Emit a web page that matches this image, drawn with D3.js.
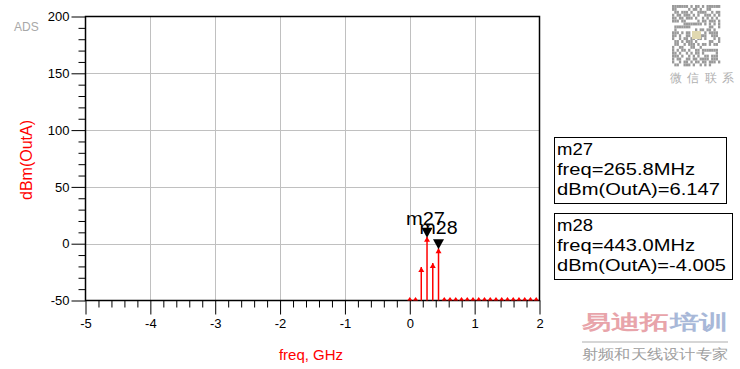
<!DOCTYPE html>
<html><head><meta charset="utf-8">
<script src="https://cdn.jsdelivr.net/npm/d3@7"></script>
<style>body{margin:0;background:#fff}svg{display:block}text{font-family:"Liberation Sans",Arial,sans-serif}</style>
</head><body><svg id="c" width="740" height="369"></svg>
<script>
// ---- data ----
const xTicks = [-5, -4, -3, -2, -1, 0, 1, 2];
const yTicks = [-50, 0, 50, 100, 150, 200];
const toneFreq = [0.1772, 0.2658, 0.3544, 0.4430];       // GHz
const toneLevel = [-20.5, 6.147, -17.0, -4.005];          // dBm
const floorFreq = [0, 0.0886, 0.5316, 0.6202, 0.7088, 0.7974, 0.8860, 0.9746, 1.0632, 1.1518,
  1.2404, 1.3290, 1.4176, 1.5062, 1.5948, 1.6834, 1.7720, 1.8606, 1.9492];
const floorLevel = [-50, -50, -50, -50, -50, -50, -50, -50, -50, -50,
  -50, -50, -50, -50, -50, -50, -50, -50, -50];
const markerNames = ["m27", "m28"];
const markerFreq = [0.2658, 0.4430];
const markerLevel = [6.147, -4.005];
const markerText = [["m27", "freq=265.8MHz", "dBm(OutA)=6.147"], ["m28", "freq=443.0MHz", "dBm(OutA)=-4.005"]];

const svg = d3.select("#c");
const x = d3.scaleLinear().domain([-5, 2]).range([85.5, 539.5]);
const y = d3.scaleLinear().domain([-50, 200]).range([300.5, 16.5]);
const fmt = d => String(d);

// grid
const g = svg.append("g");
g.selectAll(".gx").data(xTicks.slice(1, -1)).join("line")
  .attr("x1", d => Math.round(x(d)) + 0.5).attr("x2", d => Math.round(x(d)) + 0.5)
  .attr("y1", y(200)).attr("y2", y(-50)).attr("stroke", "#c0c0c0");
g.selectAll(".gy").data(yTicks.slice(1, -1)).join("line")
  .attr("y1", d => Math.round(y(d)) + 0.5).attr("y2", d => Math.round(y(d)) + 0.5)
  .attr("x1", x(-5)).attr("x2", x(2)).attr("stroke", "#c0c0c0");

// axes
const xMinor = d3.range(-5, 2.0001, 0.2).filter(v => Math.abs(v - Math.round(v)) > 1e-6);
const yMinor = d3.range(-50, 200.0001, 10).filter(v => v % 50 !== 0);
svg.append("g").attr("transform", `translate(0,${y(-50)})`)
  .call(d3.axisBottom(x).tickValues(xMinor).tickSize(7).tickFormat(""))
  .call(a => a.select(".domain").remove())
  .selectAll("line").attr("stroke", "#000");
const xa = svg.append("g").attr("transform", `translate(0,${y(-50)})`)
  .call(d3.axisBottom(x).tickValues(xTicks).tickSize(14).tickSizeOuter(0).tickPadding(4).tickFormat(fmt));
xa.select(".domain").remove();
xa.selectAll("text").attr("font-size", 13).attr("fill", "#000").attr("font-family", "Liberation Sans, Arial");
svg.append("g").attr("transform", `translate(${x(-5)},0)`)
  .call(d3.axisLeft(y).tickValues(yMinor).tickSize(7).tickFormat(""))
  .call(a => a.select(".domain").remove());
const ya = svg.append("g").attr("transform", `translate(${x(-5)},0)`)
  .call(d3.axisLeft(y).tickValues(yTicks).tickSize(14).tickPadding(2).tickFormat(fmt));
ya.select(".domain").remove();
ya.selectAll("text").attr("font-size", 13).attr("fill", "#000").attr("font-family", "Liberation Sans, Arial");

// frame
svg.append("rect").attr("x", x(-5)).attr("y", y(200)).attr("width", x(2) - x(-5)).attr("height", y(-50) - y(200))
  .attr("fill", "none").attr("stroke", "#000").attr("stroke-width", 1.5);

// floor markers
svg.selectAll(".fl").data(floorFreq).join("path")
  .attr("d", (d, i) => { const px = x(d), py = y(floorLevel[i]); return `M${px - 2.5},${py}L${px},${py - 3.5}L${px + 2.5},${py}Z`; })
  .attr("fill", "#ff0000");

// tones
svg.selectAll(".st").data(toneFreq).join("line")
  .attr("x1", d => x(d)).attr("x2", d => x(d))
  .attr("y1", (d, i) => y(toneLevel[i])).attr("y2", y(-50))
  .attr("stroke", "#ff0000").attr("stroke-width", 1.5);
svg.selectAll(".ar").data(toneFreq).join("path")
  .attr("d", (d, i) => { const px = x(d), py = y(toneLevel[i]); return `M${px - 3},${py + 5}L${px},${py}L${px + 3},${py + 5}Z`; })
  .attr("fill", "#ff0000");

// markers
svg.selectAll(".mk").data(markerFreq).join("path")
  .attr("d", (d, i) => { const px = x(d), py = y(markerLevel[i]) + 1; return `M${px - 5.5},${py - 10}L${px + 5.5},${py - 10}L${px},${py}Z`; })
  .attr("fill", "#000");
const mlab = [{dx: -21, dy: -12, w: 39}, {dx: -19, dy: -14, w: 38}];
svg.selectAll(".ml").data(markerFreq).join("text")
  .attr("x", (d, i) => x(d) + mlab[i].dx).attr("y", (d, i) => y(markerLevel[i]) + mlab[i].dy)
  .attr("font-size", 18).attr("textLength", (d, i) => mlab[i].w).attr("lengthAdjust", "spacingAndGlyphs")
  .text((d, i) => markerNames[i]).attr("fill", "#000");

// marker boxes
const boxes = [{x: 554, y: 137, w: 172, h: 66, widths: [36, 138, 163]}, {x: 554, y: 213, w: 178, h: 66, widths: [36, 138, 169]}];
boxes.forEach((b, i) => {
  svg.append("rect").attr("x", b.x + 0.5).attr("y", b.y + 0.5).attr("width", b.w).attr("height", b.h)
    .attr("fill", "#fff").attr("stroke", "#000").attr("stroke-width", 1);
  markerText[i].forEach((t, j) => {
    svg.append("text").attr("x", b.x + 3).attr("y", b.y + 18 + j * 20).attr("font-size", 17)
      .attr("textLength", b.widths[j]).attr("lengthAdjust", "spacingAndGlyphs").text(t);
  });
});

// axis titles
svg.append("text").attr("transform", "translate(32,160) rotate(-90)").attr("text-anchor", "middle")
  .attr("font-size", 16).attr("fill", "#ff0000").text("dBm(OutA)");
svg.append("text").attr("x", 311).attr("y", 360).attr("text-anchor", "middle")
  .attr("font-size", 15).attr("fill", "#ff0000").text("freq, GHz");

// ADS label
svg.append("text").attr("x", 14).attr("y", 31).attr("font-size", 12).attr("fill", "#a8a8a8").text("ADS");

// watermark: QR-like block
const qr = svg.append("g").attr("transform", "translate(672,5)");
const cell = 2.3;
const pat = "1111111010110101111111100000101101001100000110111010011110010111011011101010011101011101101110100101010101110110000010110111010000011111111010101010111111100000000110010100000000101101101001110101100110010111101101001100101110011101001011011011010001010110101110100000110010110010111010110101101001100011001000000001010110100110111111101101001010110100000101110100101010011011101011001101101111011101001011010110110111010110011101001010100000100110101101101011111111010100110110110";
for (let r = 0; r < 21; r++) for (let c = 0; c < 21; c++) {
  if (pat[(r * 21 + c) % pat.length] === "1") qr.append("rect").attr("x", c * cell).attr("y", r * cell * 1.27).attr("width", cell).attr("height", cell * 1.27).attr("fill", "#9a9a9a");
}
qr.append("rect").attr("x", 20).attr("y", 26).attr("width", 9).attr("height", 8).attr("fill", "#e0d8b0");
svg.append("text").attr("x", 670).attr("y", 82).attr("font-size", 12).attr("fill", "#b0b0b0")
  .attr("font-family", "Noto Sans CJK SC").attr("textLength", 64).text("微信联系");

// watermark bottom right
const wm = svg.append("text").attr("x", 582).attr("y", 329).attr("font-size", 20).attr("font-weight", "bold")
  .attr("font-family", "Noto Sans CJK SC").attr("textLength", 146).attr("lengthAdjust", "spacingAndGlyphs");
wm.append("tspan").attr("fill", "#e8a4aa").text("易迪拓");
wm.append("tspan").attr("fill", "#a8b8d8").text("培训");
svg.append("line").attr("x1", 582).attr("x2", 728).attr("y1", 342).attr("y2", 342).attr("stroke", "#c8c8c8").attr("stroke-width", 1.5);
svg.append("text").attr("x", 582).attr("y", 359).attr("font-size", 14).attr("fill", "#a0a0a0")
  .attr("font-family", "Noto Sans CJK SC").attr("textLength", 146).attr("lengthAdjust", "spacingAndGlyphs").text("射频和天线设计专家");
</script></body></html>
